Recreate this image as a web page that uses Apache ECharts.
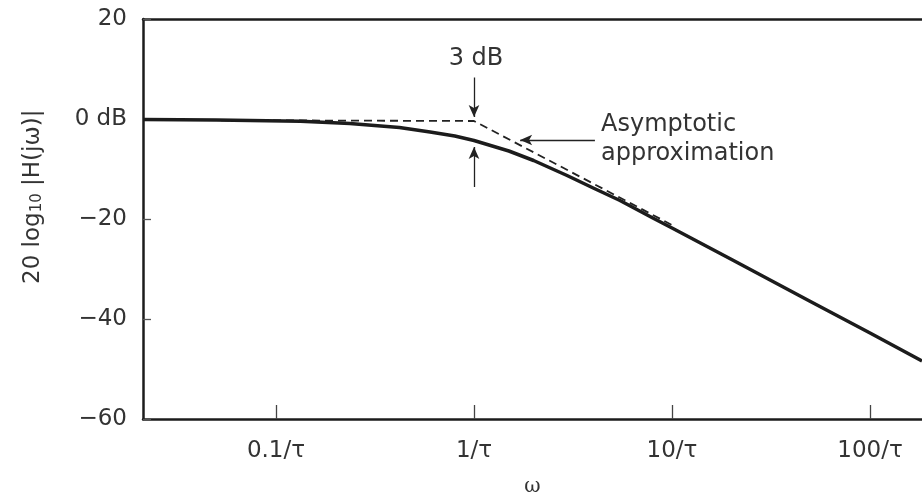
<!DOCTYPE html>
<html>
<head>
<meta charset="utf-8">
<script src="https://cdn.jsdelivr.net/npm/echarts@6/dist/echarts.min.js"></script>
<style>
  html, body { margin: 0; padding: 0; background: #fff; }
  #chart-container { width: 922px; height: 495px; }
</style>
</head>
<body>
<div id="chart-container"></div>
<script>
// frequency points (in units of 1/tau) and magnitude in dB
var omega = [0.0213, 0.05, 0.074, 0.133, 0.236, 0.42, 0.6, 0.8, 1, 1.5, 2, 2.95, 4, 5.46, 8, 10, 20, 50, 100, 183];
var magDb = [-0.1, -0.2, -0.3, -0.45, -0.9, -1.7, -2.6, -3.4, -4.3, -6.4, -8.3, -11.3, -13.8, -16.3, -19.8, -21.8, -28.1, -36.5, -42.8, -48.4];

// straight-line asymptote (dashed)
var asymOmega = [0.0213, 1, 10];
var asymDb = [-0.2, -0.4, -21.2];

var xMin = 0.0213;
var xMax = 183;

var font = 'DejaVu Sans';
var ink = '#1c1c1c';

function pairs(xs, ys) {
  return xs.map(function (x, i) { return [x, ys[i]]; });
}

function isDecade(v) {
  var l = Math.log10(v);
  return Math.abs(l - Math.round(l)) < 1e-6;
}

var dom = document.getElementById('chart-container');
var myChart = echarts.init(dom, null, { renderer: 'canvas' });

var option = {
  animation: false,
  grid: { left: 143, right: 0, top: 19, bottom: 76, containLabel: false, outerBoundsMode: 'none' },
  xAxis: [
    {
      type: 'log',
      min: xMin,
      max: xMax,
      name: 'ω',
      nameLocation: 'middle',
      nameGap: 58,
      nameTextStyle: { fontFamily: 'DejaVu Serif', fontSize: 20, color: '#333' },
      axisLine: { show: true, onZero: false, lineStyle: { color: ink, width: 2.5 } },
      axisTick: { show: true, inside: true, length: 14, lineStyle: { color: '#444', width: 1.3 } },
      axisLabel: {
        showMinLabel: false,
        showMaxLabel: false,
        margin: 21,
        fontFamily: font,
        fontSize: 23,
        color: '#333',
        formatter: function (v) {
          return isDecade(v) ? (+v.toPrecision(3)) + '/τ' : '';
        }
      },
      splitLine: { show: false },
      minorTick: { show: false }
    },
    {
      type: 'log',
      position: 'top',
      min: xMin,
      max: xMax,
      axisLine: { show: true, onZero: false, lineStyle: { color: ink, width: 2.5 } },
      axisTick: { show: false },
      axisLabel: { show: false },
      splitLine: { show: false }
    }
  ],
  yAxis: {
    type: 'value',
    min: -60,
    max: 20,
    interval: 20,
    axisLine: { show: true, onZero: false, lineStyle: { color: ink, width: 2.5 } },
    axisTick: { show: true, inside: true, length: 8, lineStyle: { color: '#555', width: 1.3 } },
    axisLabel: {
      margin: 16,
      fontFamily: font,
      fontSize: 23,
      color: '#333',
      formatter: function (v) {
        if (v === 0) return '0 dB';
        return v < 0 ? '−' + (-v) : String(v);
      }
    },
    splitLine: { show: false }
  },
  graphic: [
    {
      type: 'text',
      x: 21,
      y: 284,
      rotation: Math.PI / 2,
      style: {
        text: '20 log{s|10} |H(jω)|',
        fontFamily: font,
        fontSize: 23,
        fill: '#333',
        rich: { s: { fontSize: 15, fontFamily: font, fill: '#333', padding: [9, 0, 0, 0] } }
      }
    },
    {
      type: 'text',
      x: 476,
      y: 59,
      style: { text: '3 dB', fontFamily: font, fontSize: 24, fill: '#333', align: 'center', verticalAlign: 'middle' }
    },
    {
      type: 'text',
      x: 601,
      y: 139,
      style: {
        text: 'Asymptotic\napproximation',
        fontFamily: font,
        fontSize: 24,
        lineHeight: 29,
        fill: '#333',
        align: 'left',
        verticalAlign: 'middle'
      }
    }
  ],
  series: [
    {
      name: 'asymptote',
      type: 'line',
      data: pairs(asymOmega, asymDb),
      showSymbol: false,
      z: 1,
      lineStyle: { color: '#222', width: 1.8, type: [8, 5] },
      markLine: {
        silent: true,
        symbol: ['none', 'arrow'],
        symbolSize: [8, 12],
        label: { show: false },
        lineStyle: { color: '#222', width: 1.3, type: 'solid' },
        data: [
          [{ coord: [1, 8.3] }, { coord: [1, 0.4] }],
          [{ coord: [1, -13.6] }, { coord: [1, -5.6] }],
          [{ coord: [4.08, -4.2] }, { coord: [1.71, -4.2] }]
        ]
      }
    },
    {
      name: 'magnitude',
      type: 'line',
      data: pairs(omega, magDb),
      showSymbol: false,
      smooth: false,
      z: 3,
      lineStyle: { color: ink, width: 3.5, join: 'round' }
    }
  ]
};

myChart.setOption(option);
window.addEventListener('resize', myChart.resize);
</script>
</body>
</html>
